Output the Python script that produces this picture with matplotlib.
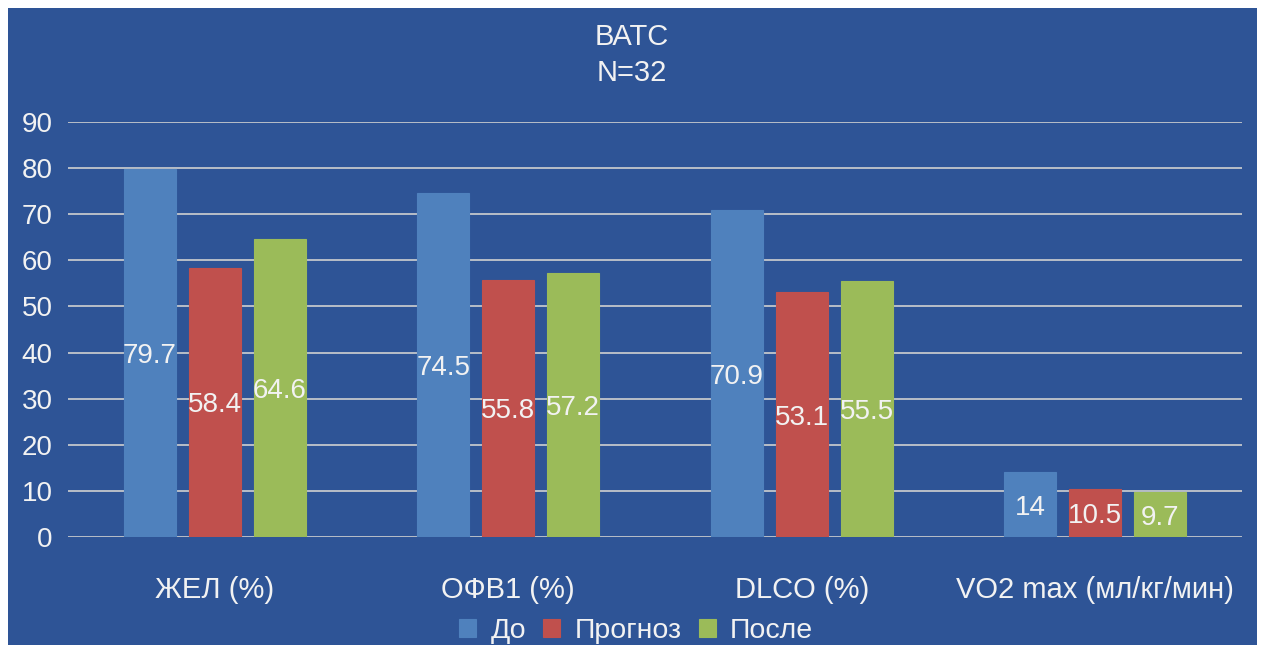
import matplotlib.pyplot as plt
import numpy as np
from matplotlib.patches import Rectangle

# data
categories = ["ЖЕЛ (%)", "ОФВ1 (%)", "DLCO (%)", "VO2 max (мл/кг/мин)"]
series_names = ["До", "Прогноз", "После"]
do_vals = [79.7, 74.5, 70.9, 14]
prognoz_vals = [58.4, 55.8, 53.1, 10.5]
posle_vals = [64.6, 57.2, 55.5, 9.7]
yticks = [0, 10, 20, 30, 40, 50, 60, 70, 80, 90]

bg = "#2E5496"
colors = ["#4F81BD", "#C0504D", "#9BBB59"]
txt = "#F2F2F2"

plt.rcParams['font.family'] = ['Liberation Sans', 'DejaVu Sans']

W, H = 1261, 645
fig = plt.figure(figsize=(W / 100, H / 100), dpi=100, facecolor="white")
# blue panel with white border
fig.patches.append(Rectangle((8 / W, 0), (1257 - 8) / W, (H - 8) / H,
                             transform=fig.transFigure, facecolor=bg,
                             edgecolor="none", zorder=-10))

ax = fig.add_axes([68 / W, 108 / H, (1242 - 68) / W, (537 - 122) / H])
ax.set_facecolor("none")
ax.set_zorder(5)

x = np.arange(len(categories))
step = 0.221
width = 0.177
all_vals = [do_vals, prognoz_vals, posle_vals]
for i, (vals, name) in enumerate(zip(all_vals, series_names)):
    pos = x + (i - 1) * step
    bars = ax.bar(pos, vals, width, color=colors[i], label=name, zorder=3,
                  edgecolor=colors[i], linewidth=0.8)
    for b, v in zip(bars, vals):
        lbl = ("%g" % v)
        ax.text(b.get_x() + b.get_width() / 2, v / 2, lbl, ha="center",
                va="center_baseline", color=txt, fontsize=20, zorder=4)

ax.set_xlim(-0.5, 3.5)
ax.set_ylim(0, 90)
ax.set_yticks(yticks)
ax.yaxis.grid(True, color="#D0D0D0", linewidth=1.2, zorder=1)
ax.set_axisbelow(True)
for s in ax.spines.values():
    s.set_visible(False)
ax.tick_params(axis="y", length=0, pad=11, labelcolor=txt, labelsize=20)
ax.tick_params(axis="x", length=0, pad=28, labelcolor=txt, labelsize=21)
ax.set_xticks(x)
ax.set_xticklabels(categories)

fig.text(632 / W, 1 - 37 / H, "ВАТС", ha="center", va="center", color=txt, fontsize=21)
fig.text(632 / W, 1 - 73 / H, "N=32", ha="center", va="center", color=txt, fontsize=21)

leg = fig.legend(loc="center", bbox_to_anchor=(636 / W, 1 - 631 / H), ncol=3,
                 frameon=False, fontsize=20.5, handlelength=0.6, handleheight=0.6,
                 handletextpad=0.5, columnspacing=0.6, labelcolor=txt)

fig.savefig("out.png", dpi=100, facecolor="white")
